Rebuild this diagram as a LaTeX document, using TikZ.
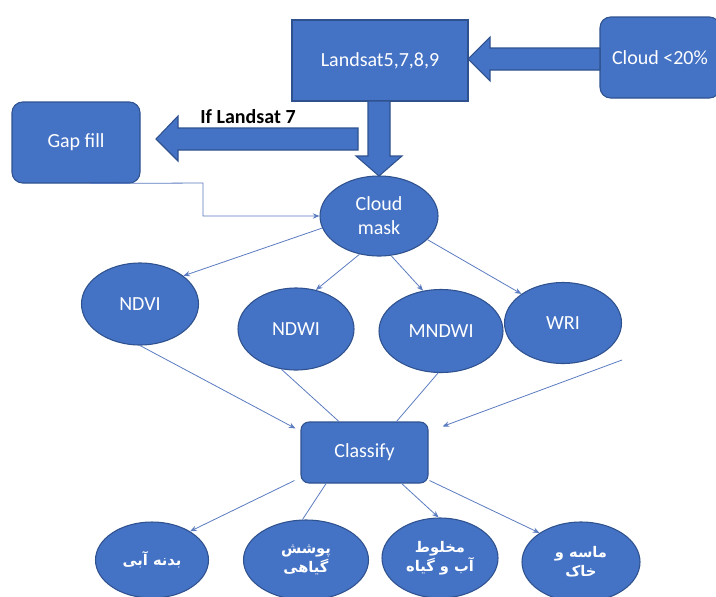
\documentclass[tikz,border=0pt]{standalone}
\usepackage{fontspec}
\setmainfont{Carlito}
\newfontfamily\fa[Script=Arabic]{DejaVu Sans}
\TeXXeTstate=1
\usetikzlibrary{shapes.geometric,arrows.meta,calc}
\definecolor{boxfill}{HTML}{4472C4}
\definecolor{boxline}{HTML}{2F528F}
\definecolor{connc}{HTML}{5B7CC0}
\begin{document}
\begin{tikzpicture}[x=0.75pt,y=-0.75pt,
  base/.style={fill=boxfill,draw=boxline,line width=0.8pt,text=white,font=\fontsize{15}{18}\selectfont,align=center,inner sep=0pt},
  sqbox/.style={base,rectangle},
  rbox/.style={base,rectangle,rounded corners=8pt},
  oval/.style={base,ellipse},
  faoval/.style={oval,font=\fa\bfseries\fontsize{11}{14}\selectfont},
  conn/.style={draw=connc,line width=0.6pt},
  tip/.style={-{Stealth[length=5pt,width=4pt]}},
  block/.style={fill=boxfill,draw=boxline,line width=0.8pt}
]
\clip (0,0) rectangle (716,596);
\fill[white] (0,0) rectangle (716,596);

% boxes
\node[sqbox,minimum width=132pt,minimum height=60.75pt] (land) at (380,60.5) {Landsat5,7,8,9};
\node[rbox,minimum width=90pt,minimum height=60.75pt] (cloud) at (660,57.5) {Cloud <20\%};
\node[rbox,minimum width=96pt,minimum height=60.75pt] (gap) at (76,142.5) {Gap fill};
\node[rbox,minimum width=95.25pt,minimum height=45.75pt,rounded corners=6pt] (cls) at (364.5,452.5) {Classify};

% ellipses
\node[oval,minimum width=88.5pt,minimum height=60pt] (cm) at (379,216) {Cloud\\mask};
\node[oval,minimum width=87.75pt,minimum height=61.5pt] (ndvi) at (140,304) {NDVI};
\node[oval,minimum width=87pt,minimum height=61.5pt] (ndwi) at (296,329) {NDWI};
\node[oval,minimum width=93pt,minimum height=62.25pt] (mndwi) at (441,331) {MNDWI};
\node[oval,minimum width=87.75pt,minimum height=60.75pt] (wri) at (563,323) {WRI};

\node[faoval,minimum width=84.75pt,minimum height=57pt] (e1) at (152,560) {\beginR بدنه آبی\endR};
\node[faoval,minimum width=93.75pt,minimum height=60pt] (e2) at (306,560) {\beginR پوشش\endR\\\beginR گیاهی\endR};
\node[faoval,minimum width=87pt,minimum height=60pt] (e3) at (440,558) {\beginR مخلوط\endR\\\beginR آب و گیاه\endR};
\node[faoval,minimum width=88.5pt,minimum height=60pt] (e4) at (581,562) {\beginR ماسه و\endR\\\beginR خاک\endR};

% block arrows
\draw[block] (600,48) -- (490,48) -- (490,37) -- (468,59) -- (490,81) -- (490,70) -- (600,70) -- cycle;
\draw[block] (358,128) -- (178,128) -- (178,116) -- (156,139) -- (178,161) -- (178,150) -- (358,150) -- cycle;
\draw[block] (368,101) -- (368,156) -- (356,156) -- (379,176) -- (402,156) -- (390,156) -- (390,101) -- cycle;
\node[font=\bfseries\fontsize{15}{18}\selectfont,text=black,inner sep=0pt] (if7) at (248,117) {If Landsat 7};

% connectors
\coordinate (gapturn) at (203,183);
\draw[conn,tip] ($(gap.south)+(14,0)$) -- (gapturn) |- (cm.west);
\draw[conn,tip] (cm.192) -- (ndvi.33);
\draw[conn,tip] (cm.243) -- (ndwi.63);
\draw[conn,tip] (cm.287) -- (mndwi.114);
\draw[conn,tip] (cm.334) -- (wri.145);

\draw[conn,tip] (ndvi.south) -- ($(cls.north west)+(-5,7)$);
\draw[conn] (ndwi.250) -- ($(cls.north west)!0.3!(cls.north east)$);
\draw[conn] (mndwi.266) -- ($(cls.north west)!0.75!(cls.north east)$);
\coordinate (free) at (622,360);
\draw[conn,tip] (free) -- ($(cls.north east)+(14,5)$);

\draw[conn,tip] ($(cls.south west)+(-6,-3)$) -- (e1.37);
\draw[conn] ($(cls.south west)!0.2!(cls.south east)$) -- (e2.95);
\draw[conn,tip] ($(cls.south west)!0.79!(cls.south east)$) -- (e3.92);
\draw[conn,tip] ($(cls.south east)+(1,-3)$) -- (e4.145);
\end{tikzpicture}
\end{document}
